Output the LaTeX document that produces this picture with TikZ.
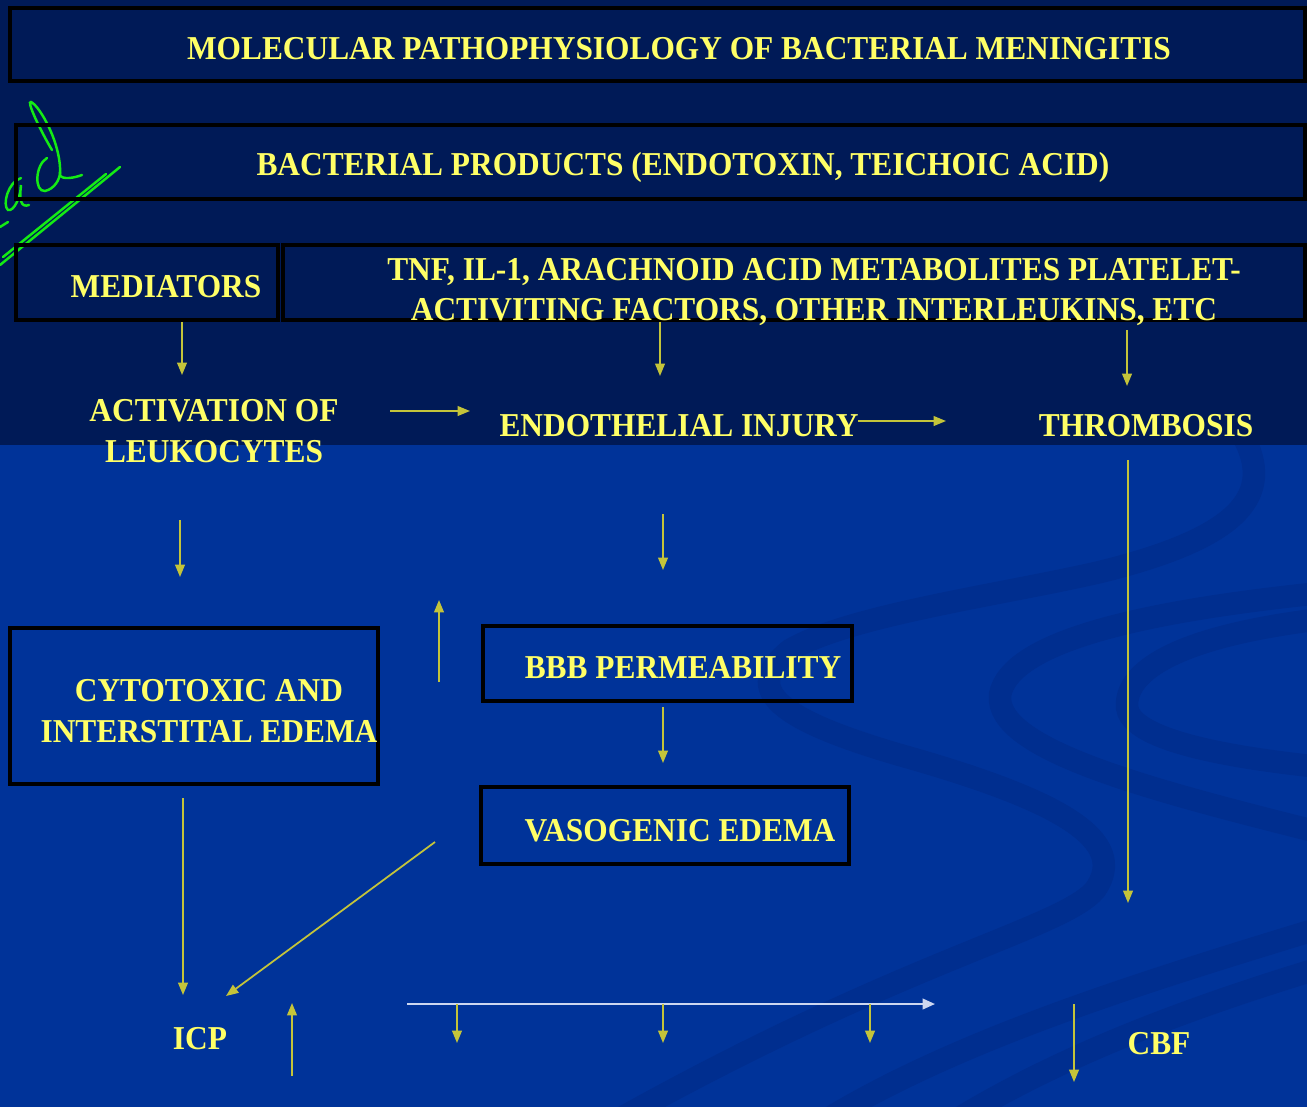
\documentclass[tikz,border=0pt]{standalone}
\usepackage{fontspec}
\setmainfont{Liberation Serif}
\usepackage{xcolor}
\usepackage{graphicx}
\usepackage{tikz}
\usetikzlibrary{positioning}
\usetikzlibrary{arrows.meta}

\definecolor{bgtop}{RGB}{0,26,87}
\definecolor{bgbot}{RGB}{0,51,153}
\definecolor{swirl}{RGB}{0,46,143}
\definecolor{txtyel}{RGB}{255,255,102}
\definecolor{arryel}{RGB}{196,196,58}
\definecolor{arrwht}{RGB}{205,215,240}
\definecolor{scribble}{RGB}{20,235,20}

% slightly condensed slide lettering
\newcommand{\sqz}[1]{\scalebox{0.94}[1]{#1}}

\begin{document}
\begin{tikzpicture}[x=0.02cm, y=-0.02cm]
\tikzstyle{box} = [draw=black, line width=2pt, inner sep=0pt]
\tikzstyle{lbl} = [text=txtyel, inner sep=0pt, align=center, font=\bfseries\fontsize{19}{23}\selectfont]
\tikzstyle{line} = [draw=arryel, line width=1pt, -{Triangle[length=7pt, width=5.5pt]}]
\tikzstyle{wline} = [draw=arrwht, line width=1.2pt, -{Triangle[length=7pt, width=6pt]}]
\tikzstyle{band} = [draw=swirl, line width=0.45cm]
\tikzstyle{scrib} = [draw=scribble, line width=1.4pt, line cap=round]

\useasboundingbox (0,0) rectangle (1307,1106);
\fill[bgbot] (-10,-10) rectangle (1317,1116);
\fill[bgtop] (-10,-10) rectangle (1317,445);

% background swirls
\begin{scope}
\clip (-10,445) rectangle (1317,1116);
\path[band] (1245,440) .. controls (1275,500) and (1230,540) .. (1100,572)
  .. controls (1000,595) and (850,615) .. (790,650)
  .. controls (740,690) and (780,720) .. (900,755)
  .. controls (1060,800) and (1130,840) .. (1095,890)
  .. controls (1060,930) and (900,960) .. (600,1130);
\path[band] (1330,592) .. controls (1150,610) and (1010,640) .. (1000,695)
  .. controls (995,750) and (1150,790) .. (1330,835);
\path[band] (1330,618) .. controls (1180,635) and (1125,670) .. (1127,707)
  .. controls (1130,735) and (1200,755) .. (1330,768);
\path[band] (1330,925) .. controls (1150,980) and (950,1040) .. (810,1130);
\path[band] (1330,965) .. controls (1180,1010) and (1050,1060) .. (940,1130);
\end{scope}

% scribble
\draw[scrib] (0,265) -- (120,167);
\draw[scrib] (3,257) -- (106,174);
\draw[scrib] (47,158) .. controls (35,165) and (34,192) .. (45,191) .. controls (54,189) and (60,180) .. (60,172);
\draw[scrib] (52,150) .. controls (40,130) and (26,100) .. (31,102) .. controls (40,106) and (62,145) .. (60,175) .. controls (62,180) and (74,178) .. (82,175);
\draw[scrib] (21,178) .. controls (8,182) and (2,205) .. (8,210) .. controls (14,212) and (21,196) .. (21,185) .. controls (19,200) and (21,208) .. (29,205);
\draw[scrib] (0,227) -- (8,222);

% boxes
\node [box, minimum width=1295*0.02cm, minimum height=73*0.02cm] (titlebox) at (657.5,44.5) {};
\node [box, minimum width=1289*0.02cm, minimum height=74*0.02cm] (bactbox) at (660.5,162) {};
\node [box, minimum width=262*0.02cm, minimum height=75*0.02cm] (medbox) at (147,282.5) {};
\node [box, minimum width=1022*0.02cm, minimum height=75*0.02cm] (tnfbox) at (794,282.5) {};
\node [box, minimum width=368*0.02cm, minimum height=156*0.02cm] (cytobox) at (194,706) {};
\node [box, minimum width=369*0.02cm, minimum height=75*0.02cm] (bbbbox) at (667.5,663.5) {};
\node [box, minimum width=368*0.02cm, minimum height=77*0.02cm] (vasobox) at (665,825.5) {};

% labels
\node [lbl] (title) at (679,49) {\sqz{MOLECULAR PATHOPHYSIOLOGY OF BACTERIAL MENINGITIS}};
\node [lbl] (bact) at (683,167) {\sqz{BACTERIAL PRODUCTS (ENDOTOXIN, TEICHOIC ACID)}};
\node [lbl] (med) at (166,287) {\sqz{MEDIATORS}};
\node [lbl] (tnf) at (814,292) {\sqz{TNF, IL-1, ARACHNOID ACID METABOLITES PLATELET-}\\ \sqz{ACTIVITING FACTORS, OTHER INTERLEUKINS, ETC}};
\node [lbl] (act) at (214,431) {\sqz{ACTIVATION OF}\\ \sqz{LEUKOCYTES}};
\node [lbl] (endo) at (679,426) {\sqz{ENDOTHELIAL INJURY}};
\node [lbl] (thromb) at (1146,426) {\sqz{THROMBOSIS}};
\node [lbl] (cyto) at (209,711) {\sqz{CYTOTOXIC AND}\\ \sqz{INTERSTITAL EDEMA}};
\node [lbl] (bbb) at (683,668) {\sqz{BBB PERMEABILITY}};
\node [lbl] (vaso) at (680,831) {\sqz{VASOGENIC EDEMA}};
\node [lbl] (icp) at (200,1039) {\sqz{ICP}};
\node [lbl] (cbf) at (1159,1044) {\sqz{CBF}};

% free arrow ends
\coordinate (medend) at (182,375);
\coordinate (tnfend) at (660,376);
\coordinate (thrtop) at (1127,330);
\coordinate (thrend) at (1127,386);
\coordinate (actr) at (390,411);
\coordinate (endol) at (470,411);
\coordinate (endor) at (858,421);
\coordinate (thrl) at (946,421);
\coordinate (actdn) at (180,520);
\coordinate (actdnend) at (180,577);
\coordinate (endodn) at (663,514);
\coordinate (endodnend) at (663,570);
\coordinate (upbot) at (439,682);
\coordinate (uptop) at (439,600);
\coordinate (bbbdn) at (663,707);
\coordinate (bbbdnend) at (663,763);
\coordinate (thrdn) at (1128,460);
\coordinate (thrdnend) at (1128,903);
\coordinate (cytodn) at (183,798);
\coordinate (icpa) at (183,995);
\coordinate (vasol) at (435,842);
\coordinate (icpb) at (226,996);
\coordinate (icpup) at (292,1076);
\coordinate (icpupend) at (292,1003);
\coordinate (hl) at (407,1004);
\coordinate (hr) at (935,1004);
\coordinate (cbfdn) at (1074,1004);
\coordinate (cbfdnend) at (1074,1082);

\path [line] (medbox.south -| medend) -- (medend);
\path [line] (tnfbox.south -| tnfend) -- (tnfend);
\path [line] (thrtop) -- (thrend);
\path [line] (actr) -- (endol);
\path [line] (endor) -- (thrl);
\path [line] (actdn) -- (actdnend);
\path [line] (endodn) -- (endodnend);
\path [line] (upbot) -- (uptop);
\path [line] (bbbdn) -- (bbbdnend);
\path [line] (thrdn) -- (thrdnend);
\path [line] (cytodn) -- (icpa);
\path [line] (vasol) -- (icpb);
\path [line] (icpup) -- (icpupend);
\path [wline] (hl) -- (hr);
\foreach \x in {457, 663, 870}
  \path [line] (\x,1004) -- (\x,1043);
\path [line] (cbfdn) -- (cbfdnend);
\end{tikzpicture}
\end{document}
